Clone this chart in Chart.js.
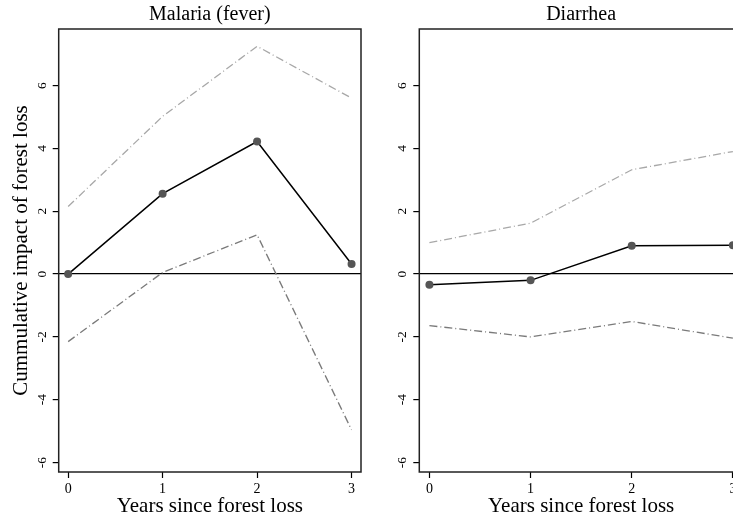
<!DOCTYPE html>
<html>
<head>
<meta charset="utf-8">
<script src="https://cdn.jsdelivr.net/npm/chart.js@4/dist/chart.umd.min.js"></script>
<style>
  html, body { margin: 0; padding: 0; background: #fff; overflow: hidden; }
  #wrap { position: relative; width: 733px; height: 518px; overflow: hidden; }
  #izq { position: absolute; left: 0; top: 0; }
  #der { position: absolute; left: 370px; top: 0; }
</style>
</head>
<body>
<div id="wrap">
  <canvas id="izq" width="370" height="518"></canvas>
  <canvas id="der" width="385" height="518"></canvas>
</div>
<script>
// datos
const anios = [0, 1, 2, 3];
const xTicks = [0, 1, 2, 3];
const yTicks = [-6, -4, -2, 0, 2, 4, 6];

const malariaEst = [0, 2.56, 4.22, 0.32];
const malariaSup = [2.15, 5.02, 7.25, 5.6];
const malariaInf = [-2.15, 0.05, 1.25, -4.96];

const diarreaEst = [-0.34, -0.2, 0.9, 0.92];
const diarreaSup = [1.0, 1.62, 3.32, 3.9];
const diarreaInf = [-1.64, -2.0, -1.51, -2.04];

const fuente = 'Liberation Serif, Times New Roman, serif';

// marco alrededor del area de la grafica
const marco = {
    id: 'marco',
    afterDraw(chart) {
        const a = chart.chartArea;
        const ctx = chart.ctx;
        ctx.save();
        ctx.strokeStyle = '#222';
        ctx.lineWidth = 1.5;
        ctx.strokeRect(a.left, a.top, a.right - a.left, a.bottom - a.top);
        ctx.restore();
    }
};

function puntos(vals) {
    return anios.map((x, i) => ({ x: x, y: vals[i] }));
}

function crearGrafica(id, titulo, est, sup, inf, anchoY, derPad, conTituloY) {
    const ctx = document.getElementById(id).getContext('2d');
    return new Chart(ctx, {
        type: 'line',
        data: {
            datasets: [{
                data: puntos(sup),
                borderColor: '#a8a8a8',
                borderWidth: 1.3,
                borderDash: [8, 3, 1, 3],
                pointRadius: 0,
                tension: 0
            }, {
                data: puntos(inf),
                borderColor: '#7a7a7a',
                borderWidth: 1.3,
                borderDash: [8, 3, 1, 3],
                pointRadius: 0,
                tension: 0
            }, {
                data: puntos(est),
                borderColor: '#000',
                borderWidth: 1.5,
                pointRadius: 4,
                pointBackgroundColor: '#555',
                pointBorderColor: '#555',
                pointBorderWidth: 0,
                tension: 0
            }]
        },
        options: {
            responsive: false,
            animation: false,
            devicePixelRatio: 1,
            layout: { padding: { left: 0, right: derPad, top: 0, bottom: 0 } },
            plugins: {
                legend: { display: false },
                tooltip: { enabled: false },
                title: {
                    display: true,
                    text: titulo,
                    fullSize: false,
                    color: '#000',
                    font: { family: fuente, size: 20, weight: 'normal' },
                    padding: { top: 3, bottom: 2 }
                }
            },
            scales: {
                x: {
                    type: 'linear',
                    min: -0.1,
                    max: 3.1,
                    afterBuildTicks: (s) => { s.ticks = xTicks.map(v => ({ value: v })); },
                    afterFit: (s) => { s.height = 46; },
                    grid: { color: 'transparent', tickColor: '#000', tickLength: 6, tickWidth: 1.2 },
                    border: { display: false },
                    ticks: {
                        color: '#000',
                        font: { family: fuente, size: 14 },
                        padding: 3,
                        maxRotation: 0
                    },
                    title: {
                        display: true,
                        text: 'Years since forest loss',
                        color: '#000',
                        font: { family: fuente, size: 21, lineHeight: 1.1 },
                        padding: { top: 0, bottom: 0 }
                    }
                },
                y: {
                    type: 'linear',
                    min: -6.3,
                    max: 7.8,
                    afterBuildTicks: (s) => { s.ticks = yTicks.map(v => ({ value: v })); },
                    afterFit: (s) => { s.width = anchoY; },
                    grid: {
                        color: (c) => (c.tick && c.tick.value === 0) ? '#000' : 'transparent',
                        lineWidth: 1.2,
                        tickColor: '#000',
                        tickLength: 6,
                        tickWidth: 1.2
                    },
                    border: { display: false },
                    ticks: {
                        color: '#000',
                        font: { family: fuente, size: 13.5 },
                        minRotation: 90,
                        maxRotation: 90,
                        crossAlign: 'center',
                        padding: 5
                    },
                    title: {
                        display: conTituloY,
                        text: 'Cummulative impact of forest loss',
                        color: '#000',
                        font: { family: fuente, size: 21 },
                        padding: { top: 9, bottom: 0 }
                    }
                }
            }
        },
        plugins: [marco]
    });
}

crearGrafica('izq', 'Malaria (fever)', malariaEst, malariaSup, malariaInf, 58.7, 9, true);
crearGrafica('der', 'Diarrhea', diarreaEst, diarreaSup, diarreaInf, 49.3, 12, false);
</script>
</body>
</html>
